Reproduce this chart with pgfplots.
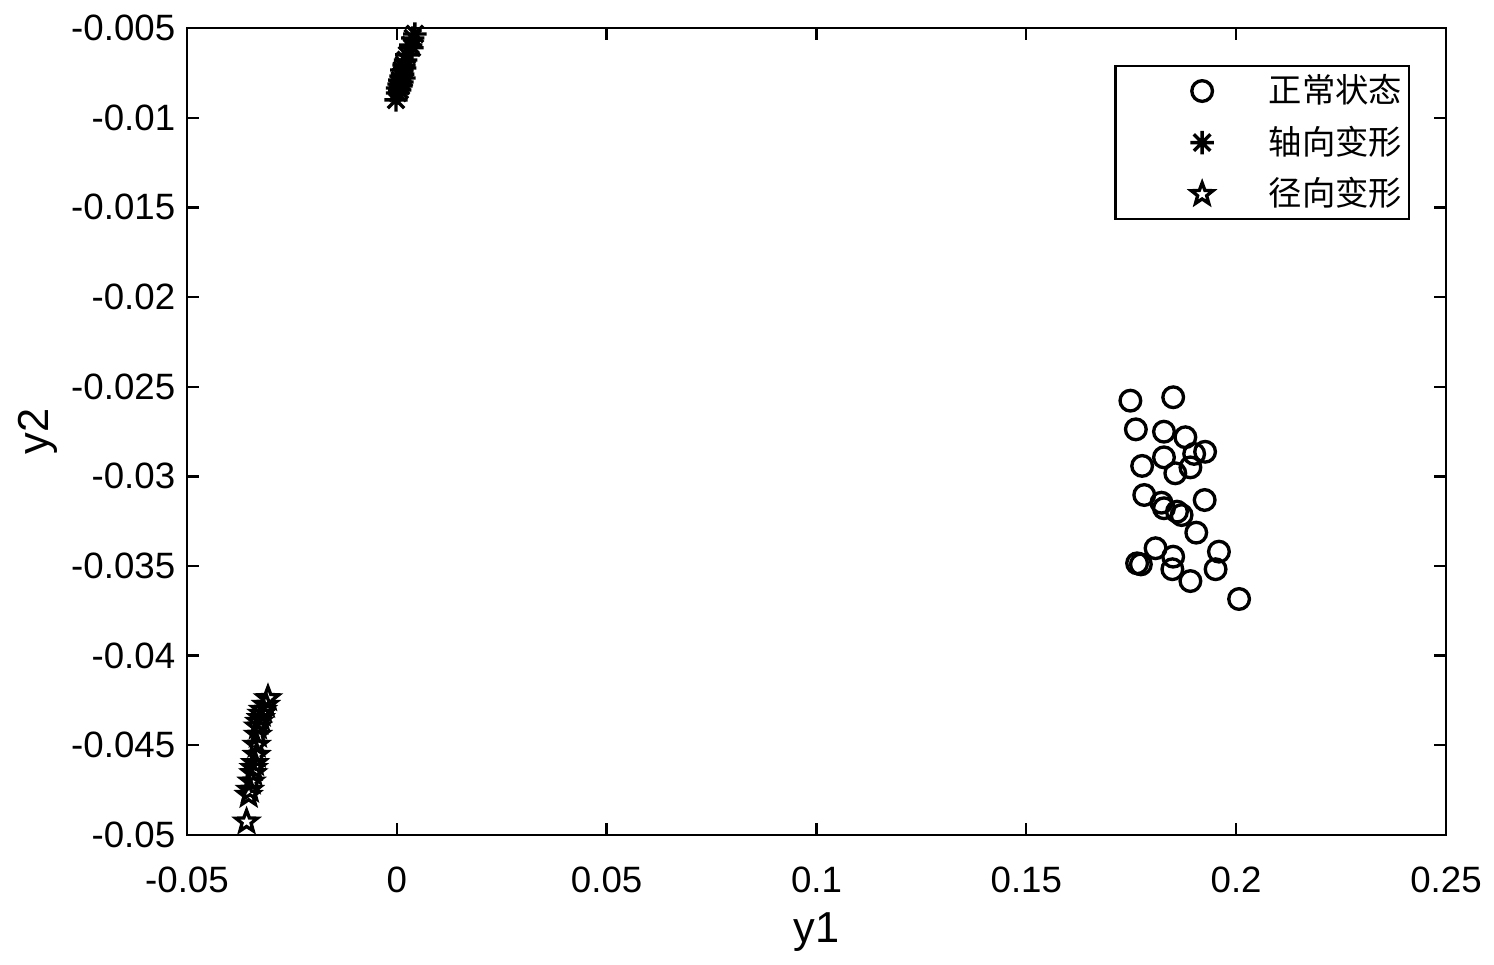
\documentclass[border=0pt]{standalone}
\usepackage{fontspec}
\setmainfont{Liberation Sans}
\newfontfamily\cjk{Noto Sans CJK SC}
\usepackage{pgfplots}
\pgfplotsset{compat=1.18}

% 8-ray asterisk and outlined pentagram, as in the source figure
\pgfdeclareplotmark{ast8}{%
  \pgfpathmoveto{\pgfqpoint{0pt}{\pgfplotmarksize}}\pgfpathlineto{\pgfqpoint{0pt}{-\pgfplotmarksize}}%
  \pgfpathmoveto{\pgfqpoint{\pgfplotmarksize}{0pt}}\pgfpathlineto{\pgfqpoint{-\pgfplotmarksize}{0pt}}%
  \pgfpathmoveto{\pgfqpoint{.707\pgfplotmarksize}{.707\pgfplotmarksize}}\pgfpathlineto{\pgfqpoint{-.707\pgfplotmarksize}{-.707\pgfplotmarksize}}%
  \pgfpathmoveto{\pgfqpoint{-.707\pgfplotmarksize}{.707\pgfplotmarksize}}\pgfpathlineto{\pgfqpoint{.707\pgfplotmarksize}{-.707\pgfplotmarksize}}%
  \pgfusepathqstroke}
\pgfdeclareplotmark{pstar}{%
  \pgfpathmoveto{\pgfpointpolar{90}{\pgfplotmarksize}}%
  \pgfpathlineto{\pgfpointpolar{126}{0.42\pgfplotmarksize}}%
  \pgfpathlineto{\pgfpointpolar{162}{\pgfplotmarksize}}%
  \pgfpathlineto{\pgfpointpolar{198}{0.42\pgfplotmarksize}}%
  \pgfpathlineto{\pgfpointpolar{234}{\pgfplotmarksize}}%
  \pgfpathlineto{\pgfpointpolar{270}{0.42\pgfplotmarksize}}%
  \pgfpathlineto{\pgfpointpolar{306}{\pgfplotmarksize}}%
  \pgfpathlineto{\pgfpointpolar{342}{0.42\pgfplotmarksize}}%
  \pgfpathlineto{\pgfpointpolar{18}{\pgfplotmarksize}}%
  \pgfpathlineto{\pgfpointpolar{54}{0.42\pgfplotmarksize}}%
  \pgfpathclose\pgfusepathqstroke}

\begin{document}
\begin{tikzpicture}
\useasboundingbox (-56.1pt,-39pt) rectangle (392.1pt,250.5pt);
\begin{axis}[
  at={(0pt,0pt)},anchor=south west,
  scale only axis,width=377.7pt,height=242.1pt,
  xmin=-0.05,xmax=0.25,ymin=-0.05,ymax=-0.005,
  xtick={-0.05,0,0.05,0.1,0.15,0.2,0.25},
  xticklabels={-0.05,0,0.05,0.1,0.15,0.2,0.25},
  ytick={-0.05,-0.045,-0.04,-0.035,-0.03,-0.025,-0.02,-0.015,-0.01,-0.005},
  yticklabels={-0.05,-0.045,-0.04,-0.035,-0.03,-0.025,-0.02,-0.015,-0.01,-0.005},
  scaled ticks=false,
  tick align=inside,major tick length=3.6pt,
  axis line style={line width=0.7pt},
  every tick/.style={black,line width=0.7pt},
  tick label style={font=\fontsize{11}{13}\selectfont},
  xticklabel style={yshift=-6pt},
  every axis x label/.style={at={(rel axis cs:0.5,0)},anchor=center,yshift=-29.1pt,font=\fontsize{13}{15}\selectfont},
  every axis y label/.style={at={(rel axis cs:0,0.5)},xshift=-44.7pt,rotate=90,anchor=center,font=\fontsize{13}{15}\selectfont},
  xlabel={y1},ylabel={y2},
  legend style={at={(rel axis cs:0.9714,0.9542)},anchor=north east,draw=black,line width=0.7pt,
    font=\cjk\fontsize{10}{12}\selectfont,row sep=1.5pt,inner xsep=0pt,inner ysep=0.5pt},
  legend cell align=left,
  legend image code/.code={%
    \path[draw=none,fill=none] (0pt,0pt) -- (44pt,0pt);
    \draw[#1,only marks] plot coordinates {(26pt,0pt)};},
]
\addplot[only marks,mark=o,mark size=3.1pt,line width=1pt,black] coordinates {
(0.1748,-0.02578) (0.1850,-0.02559) (0.1761,-0.02738) (0.1828,-0.02751)
(0.1879,-0.02782) (0.1926,-0.02863) (0.1900,-0.02875) (0.1828,-0.02894)
(0.1776,-0.02942) (0.1891,-0.02950) (0.1855,-0.02983) (0.1781,-0.03104)
(0.1925,-0.03132) (0.1822,-0.03147) (0.1828,-0.03178) (0.1859,-0.03197)
(0.1870,-0.03216) (0.1905,-0.03314) (0.1808,-0.03401) (0.1959,-0.03420)
(0.1850,-0.03448) (0.1764,-0.03485) (0.1773,-0.03491) (0.1848,-0.03518)
(0.1951,-0.03518) (0.1891,-0.03584) (0.2007,-0.03684)};
\addlegendentry{正常状态}
\addplot[only marks,mark=ast8,mark size=3.5pt,line width=1pt,black] coordinates {
(0.0043,-0.00533) (0.0038,-0.00556) (0.0033,-0.00595) (0.0036,-0.00610)
(0.0024,-0.00650) (0.0021,-0.00678) (0.0017,-0.00706) (0.0019,-0.00723)
(0.0012,-0.00734) (0.0014,-0.00757) (0.0010,-0.00768) (0.0017,-0.00779)
(0.0007,-0.00790) (0.0012,-0.00801) (0.0005,-0.00812) (0.0010,-0.00823)
(0.0002,-0.00835) (0.0007,-0.00846) (0.0002,-0.00862) (-0.0002,-0.00901)};
\addlegendentry{轴向变形}
\addplot[only marks,mark=pstar,mark size=3.4pt,line width=1pt,black] coordinates {
(-0.0307,-0.04238) (-0.0312,-0.04275) (-0.0319,-0.04303) (-0.0322,-0.04325)
(-0.0324,-0.04349) (-0.0328,-0.04370) (-0.0331,-0.04396) (-0.0331,-0.04442)
(-0.0334,-0.04498) (-0.0334,-0.04554) (-0.0338,-0.04600) (-0.0341,-0.04627)
(-0.0342,-0.04656) (-0.0346,-0.04703) (-0.0350,-0.04749) (-0.0353,-0.04777)
(-0.0358,-0.04926)};
\addlegendentry{径向变形}
\end{axis}
\end{tikzpicture}
\end{document}
